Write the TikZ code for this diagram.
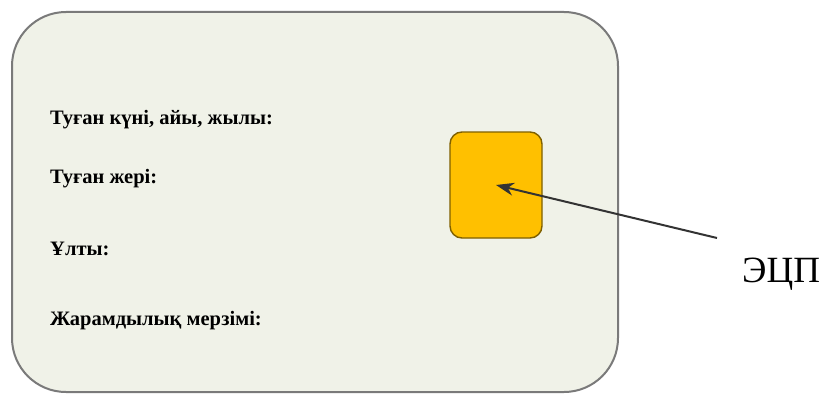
\documentclass[tikz,border=0pt]{standalone}
\usepackage{fontspec}
\setmainfont{Liberation Serif}
\usepackage{tikz}
\usetikzlibrary{positioning, arrows.meta}
\definecolor{cardfill}{HTML}{F0F2E8}
\definecolor{cardline}{HTML}{7A7A7A}
\definecolor{chipfill}{HTML}{FFC000}
\definecolor{chipline}{HTML}{7F6000}
\tikzset{field/.style={anchor=base west, inner sep=0pt, font=\bfseries\fontsize{20.5}{22}\selectfont}}

\begin{document}
\begin{tikzpicture}[x=1pt, y=-1pt, >={Stealth[length=18pt, width=13pt]}]
\useasboundingbox (0,0) rectangle (827,396);
% card
\draw[cardline, line width=2pt, fill=cardfill, rounded corners=54pt](12,12) rectangle (618,392);
\node[field] (born) at (50,124) {Туған күні, айы, жылы:};
\node[field] (place) at (50,183) {Туған жері:};
\node[field] (nation) at (50,255) {Ұлты:};
\node[field] (valid) at (50,325) {Жарамдылық мерзімі:};
% chip
\node[draw=chipline, line width=1.4pt, fill=chipfill, rounded corners=12pt, minimum width=92pt, minimum height=106pt, inner sep=0pt] (chip) at (496,185) {};
\node[anchor=base west, inner sep=0pt, font=\fontsize{37}{40}\selectfont] (ecp) at (742,282) {ЭЦП};
\coordinate (tail) at (717,238);
\draw[->, line width=2pt, black!80](tail)--(chip.center);
\end{tikzpicture}
\end{document}
